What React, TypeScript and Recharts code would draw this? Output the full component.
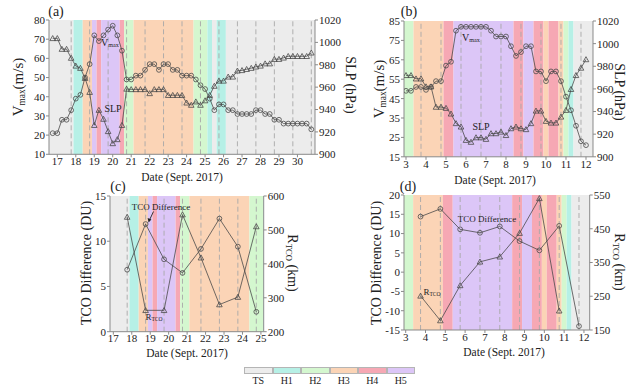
import React from 'react';
import { ComposedChart, Line, XAxis, YAxis, ReferenceArea, ReferenceLine } from 'recharts';

const FONT = '"Liberation Serif", "Times New Roman", serif';
const INK = '#4a4a4a';
const AXIS = '#8a8a8a';
const TEXT = '#222';

const bandColors: Record<string, string> = {
  TS: '#ececec',
  H1: '#b6f0e6',
  H2: '#d4f7cf',
  H3: '#fbd4b6',
  H4: '#f6a8b4',
  H5: '#dcc6f7',
};
const legendKeys = ['TS', 'H1', 'H2', 'H3', 'H4', 'H5'];

// Maria, 6-hourly (panel a)
const mariaTimes = [16.75, 17, 17.25, 17.5, 17.75, 18, 18.25, 18.5, 18.75, 19, 19.25, 19.5, 19.75, 20, 20.25, 20.5, 20.75, 21, 21.25, 21.5, 21.75, 22, 22.25, 22.5, 22.75, 23, 23.25, 23.5, 23.75, 24, 24.25, 24.5, 24.75, 25, 25.25, 25.5, 25.75, 26, 26.25, 26.5, 26.75, 27, 27.25, 27.5, 27.75, 28, 28.25, 28.5, 28.75, 29, 29.25, 29.5, 29.75, 30, 30.25, 30.5, 30.75];
const mariaVmax = [21, 21, 28, 28, 33, 39, 41, 50, 57, 72, 69, 72, 75, 77, 72, 64, 49, 49, 51, 51, 54, 57, 57, 54, 57, 57, 54, 54, 51, 51, 51, 49, 46, 44, 39, 33, 36, 36, 33, 33, 31, 31, 31, 31, 33, 33, 31, 31, 28, 28, 26, 26, 26, 26, 26, 26, 23];
const mariaSlp = [1003.6, 1003.6, 994, 994, 986, 979, 977, 968, 955.5, 926, 939.5, 931.5, 920.5, 909.7, 913.3, 926, 958.4, 958, 958, 958, 958, 954.4, 958, 958, 958, 952.8, 952.8, 952.8, 952.8, 946, 944, 947, 944, 948, 952.8, 961, 965.6, 965.6, 969.2, 969.2, 974.6, 975, 976, 977, 978.2, 979, 981, 981, 985, 985, 986.2, 987.6, 987.6, 987.6, 987.6, 987.6, 990.7];

// Irma, 6-hourly (panel b)
const irmaTimes = [3, 3.25, 3.5, 3.75, 4, 4.25, 4.5, 4.75, 5, 5.25, 5.5, 5.75, 6, 6.25, 6.5, 6.75, 7, 7.25, 7.5, 7.75, 8, 8.25, 8.5, 8.75, 9, 9.25, 9.5, 9.75, 10, 10.25, 10.5, 10.75, 11, 11.25, 11.5, 11.75, 12];
const irmaVmax = [49, 49, 51, 51, 49.5, 51, 54, 54, 62, 64, 80, 82, 82, 82, 82, 82, 82, 80, 77, 77, 77, 72, 67, 69, 72, 72, 59, 59, 54, 59, 59, 54, 46, 39, 31, 23, 21];
const irmaSlp = [972, 972, 969, 969, 962, 962, 944, 944, 943, 938, 929.5, 926.5, 914.7, 913, 917, 917, 915.6, 920.6, 920.6, 922, 919, 925, 926.5, 925, 924.2, 929.5, 940.6, 940.6, 931.5, 930, 930, 935.3, 941.2, 959.7, 972, 978.5, 986];

// daily TCO difference and R_TCO (panels c, d)
const mariaTcoTimes = [17.75, 18.75, 19.75, 20.75, 21.75, 22.75, 23.75, 24.75];
const mariaTco = [6.85, 11.9, 8.0, 6.5, 9.15, 12.5, 9.4, 2.2];
const mariaRtco = [538, 263, 263, 545, 418, 280, 302, 510];

const irmaTcoTimes = [3.75, 4.75, 5.75, 6.75, 7.75, 8.75, 9.75, 10.75, 11.75];
const irmaTco = [14.4, 16.4, 11.1, 10.2, 11.85, 8.05, 5.65, 12.0, -14.0];
const irmaRtco = [251, 178, 282, 352, 367, 437, 540, 207, null];

// intensity categories
const mariaBands: [number, number, string][] = [
  [16, 17.875, 'TS'], [17.875, 18.375, 'H1'], [18.375, 18.875, 'H3'], [18.875, 19.125, 'H5'],
  [19.125, 19.375, 'H4'], [19.375, 20.375, 'H5'], [20.375, 20.625, 'H4'], [20.625, 21.125, 'H2'],
  [21.125, 24.375, 'H3'], [24.375, 25.125, 'H2'], [25.125, 25.375, 'H1'], [25.375, 25.625, 'TS'],
  [25.625, 26.125, 'H1'], [26.125, 32, 'TS'],
];
const irmaBands: [number, number, string][] = [
  [2, 3.375, 'H2'], [3.375, 4.875, 'H3'], [4.875, 5.375, 'H4'], [5.375, 8.375, 'H5'],
  [8.375, 8.875, 'H4'], [8.875, 9.375, 'H5'], [9.375, 9.875, 'H4'], [9.875, 10.125, 'H3'],
  [10.125, 10.625, 'H4'], [10.625, 10.875, 'H3'], [10.875, 11.125, 'H2'], [11.125, 11.375, 'H1'],
  [11.375, 13, 'TS'],
];
const mariaDashes = [17.75, 18.75, 19.75, 20.75, 21.75, 22.75, 23.75, 24.75, 25.75, 26.75, 27.75, 28.75, 29.75, 30.75];
const irmaDashes = [3.75, 4.75, 5.75, 6.75, 7.75, 8.75, 9.75, 10.75, 11.75];

const mariaDays = [17, 18, 19, 20, 21, 22, 23, 24, 25, 26, 27, 28, 29, 30];
const mariaDaysShort = [17, 18, 19, 20, 21, 22, 23, 24, 25];
const irmaDays = [3, 4, 5, 6, 7, 8, 9, 10, 11, 12];

const zip = (t: number[], a: (number | null)[], b: (number | null)[]) =>
  t.map((v, i) => ({ t: v, a: a[i], b: b[i] }));

const Tri = (props: any) => {
  const { cx, cy, index, value } = props;
  if (cx == null || cy == null || value == null) return <g key={`t${index}`} />;
  const s = 2.8;
  return (
    <path
      key={`t${index}`}
      d={`M${cx},${cy - s}L${cx + s},${cy + s * 0.8}L${cx - s},${cy + s * 0.8}Z`}
      fill="none"
      stroke={INK}
      strokeWidth={0.8}
    />
  );
};

type PanelSpec = {
  x0: number; x1: number; y0: number; y1: number;
  domain: [number, number];
  xTicks: number[];
  bands: [number, number, string][];
  dashes: number[];
  rows: any[];
  lDomain: [number, number]; lTicks: number[];
  rDomain: [number, number]; rTicks: number[];
};

function Panel(p: PanelSpec) {
  const axW = 40, mt = 8, axH = 26;
  const w = p.x1 - p.x0 + axW * 2;
  const h = p.y1 - p.y0 + mt + axH;
  const clamp = (v: number) => Math.min(Math.max(v, p.domain[0]), p.domain[1]);
  const tick = { fill: TEXT, fontSize: 11, fontFamily: FONT };
  return (
    <div style={{ position: 'absolute', left: p.x0 - axW, top: p.y0 - mt }}>
      <ComposedChart width={w} height={h} data={p.rows} margin={{ top: mt, right: 0, bottom: 0, left: 0 }}>
        <XAxis type="number" dataKey="t" domain={p.domain} ticks={p.xTicks} allowDataOverflow interval={0}
          tickSize={3} tickMargin={0} height={axH} stroke={AXIS} tick={tick} />
        <XAxis xAxisId="top" orientation="top" type="number" domain={p.domain} allowDataOverflow
          height={0} tick={false} tickLine={false} stroke={AXIS} />
        <YAxis yAxisId="l" width={axW} domain={p.lDomain} ticks={p.lTicks} allowDataOverflow interval={0}
          tickSize={3} tickMargin={1} stroke={AXIS} tick={tick} />
        <YAxis yAxisId="r" orientation="right" width={axW} domain={p.rDomain} ticks={p.rTicks} allowDataOverflow
          interval={0} tickSize={3} tickMargin={1} stroke={AXIS} tick={tick} />
        {p.bands.map(([a, b, k], i) => (
          <ReferenceArea key={`b${i}`} yAxisId="l" x1={clamp(a)} x2={clamp(b)} fill={bandColors[k]}
            fillOpacity={1} stroke="none" ifOverflow="visible" />
        ))}
        {p.dashes.map((d) => (
          <ReferenceLine key={`d${d}`} yAxisId="l" x={d} stroke="#a8a8a8" strokeDasharray="5 3" strokeWidth={0.9} />
        ))}
        <Line yAxisId="l" type="linear" dataKey="a" stroke={INK} strokeWidth={0.8} isAnimationActive={false}
          dot={{ r: 2.4, fill: 'none', stroke: INK, strokeWidth: 0.8 }} activeDot={false} />
        <Line yAxisId="r" type="linear" dataKey="b" stroke={INK} strokeWidth={0.8} isAnimationActive={false}
          dot={Tri} activeDot={false} />
      </ComposedChart>
    </div>
  );
}

const Txt = ({ x, y, rot = 0, size = 13, children }: any) => (
  <div style={{
    position: 'absolute', left: x, top: y, transform: `translate(-50%, -50%) rotate(${rot}deg)`,
    fontSize: size, fontFamily: FONT, whiteSpace: 'nowrap', color: TEXT, lineHeight: 1,
  }}>{children}</div>
);
const Sub = ({ children }: any) => (
  <span style={{ fontSize: '0.62em', verticalAlign: '-0.2em' }}>{children}</span>
);

export default function App() {
  return (
    <div style={{ position: 'absolute', left: 0, top: 0, width: 634, height: 388, background: '#fff', overflow: 'hidden' }}>
      <Panel x0={49} x1={315} y0={20} y1={154.3} domain={[16.55, 30.95]} xTicks={mariaDays}
        bands={mariaBands} dashes={mariaDashes} rows={zip(mariaTimes, mariaVmax, mariaSlp)}
        lDomain={[10, 80]} lTicks={[10, 20, 30, 40, 50, 60, 70, 80]}
        rDomain={[900, 1020]} rTicks={[900, 920, 940, 960, 980, 1000, 1020]} />
      <Panel x0={403.5} x1={592.5} y0={20.7} y1={156.5} domain={[2.9, 12.35]} xTicks={irmaDays}
        bands={irmaBands} dashes={irmaDashes} rows={zip(irmaTimes, irmaVmax, irmaSlp)}
        lDomain={[15, 85]} lTicks={[15, 25, 35, 45, 55, 65, 75, 85]}
        rDomain={[900, 1020]} rTicks={[900, 920, 940, 960, 980, 1000, 1020]} />
      <Panel x0={110} x1={263.7} y0={196} y1={331.7} domain={[16.82, 25.15]} xTicks={mariaDaysShort}
        bands={mariaBands} dashes={mariaDashes.slice(0, 8)} rows={zip(mariaTcoTimes, mariaTco, mariaRtco)}
        lDomain={[0, 15]} lTicks={[0, 5, 10, 15]}
        rDomain={[200, 600]} rTicks={[200, 300, 400, 500, 600]} />
      <Panel x0={404.3} x1={590} y0={195} y1={330} domain={[2.914, 12.29]} xTicks={irmaDays}
        bands={irmaBands} dashes={irmaDashes} rows={zip(irmaTcoTimes, irmaTco, irmaRtco)}
        lDomain={[-15, 20]} lTicks={[-15, -10, -5, 0, 5, 10, 15, 20]}
        rDomain={[150, 550]} rTicks={[150, 250, 350, 450, 550]} />

      <Txt x={56} y={12} size={14}>(a)</Txt>
      <Txt x={409} y={12} size={14}>(b)</Txt>
      <Txt x={118} y={187} size={14}>(c)</Txt>
      <Txt x={408} y={187} size={14}>(d)</Txt>

      <Txt x={19} y={87} rot={-90} size={15}>V<Sub>max</Sub>(m/s)</Txt>
      <Txt x={350} y={85} rot={90} size={14}>SLP (hPa)</Txt>
      <Txt x={182} y={178} size={11.5}>Date (Sept. 2017)</Txt>
      <Txt x={380} y={89} rot={-90} size={15}>V<Sub>max</Sub>(m/s)</Txt>
      <Txt x={619} y={92} rot={90} size={14}>SLP (hPa)</Txt>
      <Txt x={495} y={181} size={11.5}>Date (Sept. 2017)</Txt>

      <Txt x={87} y={263} rot={-90} size={14}>TCO Difference (DU)</Txt>
      <Txt x={292} y={263} rot={90} size={14}>R<Sub>TCO</Sub> (km)</Txt>
      <Txt x={187} y={354} size={11.5}>Date (Sept. 2017)</Txt>
      <Txt x={377} y={263} rot={-90} size={14}>TCO Difference (DU)</Txt>
      <Txt x={619} y={262} rot={90} size={14}>R<Sub>TCO</Sub> (km)</Txt>
      <Txt x={504} y={352.5} size={11.5}>Date (Sept. 2017)</Txt>

      <Txt x={110} y={43} size={10}>V<Sub>max</Sub></Txt>
      <Txt x={113} y={109} size={10}>SLP</Txt>
      <Txt x={471} y={38} size={10}>V<Sub>max</Sub></Txt>
      <Txt x={481} y={127} size={10}>SLP</Txt>
      <Txt x={161} y={207} size={9}>TCO Difference</Txt>
      <Txt x={154} y={318} size={9}>R<Sub>TCO</Sub></Txt>
      <Txt x={487} y={219} size={9}>TCO Difference</Txt>
      <Txt x={432} y={293} size={9}>R<Sub>TCO</Sub></Txt>
      <svg style={{ position: 'absolute', left: 0, top: 0 }} width={634} height={388}>
        <line x1={153.5} y1={211.5} x2={149.5} y2={220} stroke="#222" strokeWidth={0.9} />
        <path d="M148.6,222.6 L147.6,217.9 L151.4,219.6 Z" fill="#222" />
      </svg>

      <div style={{ position: 'absolute', left: 244, top: 366.5, display: 'flex' }}>
        {legendKeys.map((k) => (
          <div key={k} style={{ width: 28.5, textAlign: 'center' }}>
            <div style={{ height: 7, background: bandColors[k], border: '0.5px solid #b5b5b5', boxSizing: 'border-box' }} />
            <div style={{ fontFamily: FONT, fontSize: 10, color: TEXT, marginTop: 2, lineHeight: 1 }}>{k}</div>
          </div>
        ))}
      </div>
    </div>
  );
}
